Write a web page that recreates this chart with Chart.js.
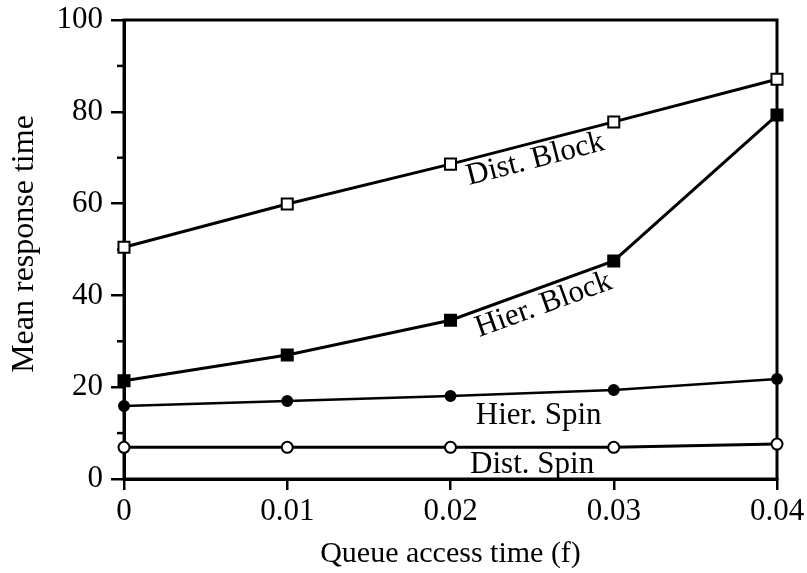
<!DOCTYPE html>
<html>
<head>
    <title>Mean response time</title>
    <script src="https://cdn.jsdelivr.net/npm/chart.js@4/dist/chart.umd.min.js"></script>
    <style>
        body { margin: 0; background: #fff; }
        #wrap { width: 807px; height: 573px; position: relative; }
    </style>
</head>
<body>
<div id="wrap"><canvas id="stage"></canvas></div>
<script>
    // queue access time f
    var xValues = [0, 0.01, 0.02, 0.03, 0.04];
    var xTickLabels = ['0', '0.01', '0.02', '0.03', '0.04'];
    var yTicks = [0, 20, 40, 60, 80, 100];
    var yMinorTicks = [10, 30, 50, 70, 90];

    // mean response time per scheme
    var distBlock = [50.5, 59.9, 68.6, 77.8, 87.1];
    var hierBlock = [21.4, 27.0, 34.6, 47.5, 79.3];
    var hierSpin  = [15.9, 17.0, 18.1, 19.4, 21.8];
    var distSpin  = [6.9, 6.9, 6.9, 6.9, 7.6];

    // curve names written next to the lines: [text, x, y, dataset index for slope]
    var curveLabels = [
        ['Dist. Block', 0.0252, 69.6, 0],
        ['Hier. Block', 0.0257, 37.9, 1],
        ['Hier. Spin', 0.0254, 13.8, -1],
        ['Dist. Spin', 0.0250, 3.1, -1]
    ];

    var serif = 'Liberation Serif';

    function toPoints(ys) {
        return xValues.map(function (x, i) { return {x: x, y: ys[i]}; });
    }

    // box round the plot, drawn under the lines so edge markers sit on top
    var frame = {
        id: 'frame',
        beforeDatasetsDraw: function (chart) {
            var a = chart.chartArea, ctx = chart.ctx, ys = chart.scales.y;
            ctx.save();
            ctx.strokeStyle = '#000';
            ctx.lineWidth = 3;
            ctx.strokeRect(a.left, a.top, a.right - a.left, a.bottom - a.top);
            // short minor ticks on the y axis
            ctx.lineWidth = 2.5;
            yMinorTicks.forEach(function (v) {
                var py = ys.getPixelForValue(v);
                ctx.beginPath();
                ctx.moveTo(a.left - 7, py);
                ctx.lineTo(a.left, py);
                ctx.stroke();
            });
            ctx.restore();
        }
    };

    var lineNames = {
        id: 'lineNames',
        afterDatasetsDraw: function (chart) {
            var ctx = chart.ctx, xs = chart.scales.x, ys = chart.scales.y;
            ctx.save();
            ctx.fillStyle = '#000';
            ctx.font = '31px "' + serif + '"';
            ctx.textAlign = 'center';
            ctx.textBaseline = 'middle';
            curveLabels.forEach(function (l) {
                var px = xs.getPixelForValue(l[1]);
                var py = ys.getPixelForValue(l[2]);
                var angle = 0;
                if (l[3] >= 0) {
                    var pts = chart.getDatasetMeta(l[3]).data;
                    angle = Math.atan2(pts[3].y - pts[2].y, pts[3].x - pts[2].x);
                }
                ctx.save();
                ctx.translate(px, py);
                ctx.rotate(angle);
                ctx.fillText(l[0], 0, 0);
                ctx.restore();
            });

            // y axis title, rotated
            ctx.font = '32px "' + serif + '"';
            ctx.textBaseline = 'alphabetic';
            ctx.translate(33, 244);
            ctx.rotate(-Math.PI / 2);
            ctx.fillText('Mean response time', 0, 0);
            ctx.restore();
        }
    };

    function series(label, ys, style, fill, radius, width) {
        return {
            label: label,
            data: toPoints(ys),
            borderColor: '#000',
            borderWidth: width,
            pointStyle: style,
            pointRadius: radius,
            pointBorderWidth: 2,
            pointBorderColor: '#000',
            pointBackgroundColor: fill,
            tension: 0,
            clip: false
        };
    }

    var canvas = document.getElementById('stage');
    var chart = new Chart(canvas, {
        type: 'line',
        data: {
            datasets: [
                series('Dist. Block', distBlock, 'rect', '#fff', 7.8, 3),
                series('Hier. Block', hierBlock, 'rect', '#000', 7.8, 3),
                series('Hier. Spin', hierSpin, 'circle', '#000', 5, 2.5),
                series('Dist. Spin', distSpin, 'circle', '#fff', 5.5, 3)
            ]
        },
        options: {
            responsive: true,
            maintainAspectRatio: false,
            animation: false,
            layout: { padding: { top: 20, right: 30, left: 0, bottom: 0 } },
            plugins: {
                legend: { display: false },
                tooltip: { enabled: false }
            },
            scales: {
                x: {
                    type: 'linear',
                    min: 0,
                    max: 0.04,
                    afterBuildTicks: function (s) {
                        s.ticks = xValues.map(function (v) { return {value: v}; });
                    },
                    afterFit: function (s) {
                        s.height = 94;
                        s.paddingLeft = 0;
                        s.paddingRight = 0;
                    },
                    grid: { drawOnChartArea: false, color: '#000', lineWidth: 2.5, tickLength: 11 },
                    border: { display: true, color: '#000', width: 3 },
                    ticks: {
                        color: '#000',
                        padding: 3,
                        maxRotation: 0,
                        font: { family: serif, size: 31 },
                        callback: function (v) {
                            var i = xValues.indexOf(v);
                            return i >= 0 ? xTickLabels[i] : '';
                        }
                    },
                    title: {
                        display: true,
                        text: 'Queue access time (f)',
                        color: '#000',
                        font: { family: serif, size: 30 },
                        padding: { top: 0, bottom: 1 }
                    }
                },
                y: {
                    min: 0,
                    max: 100,
                    afterBuildTicks: function (s) {
                        s.ticks = yTicks.map(function (v) { return {value: v}; });
                    },
                    afterFit: function (s) {
                        s.width = 124;
                        s.paddingTop = 0;
                        s.paddingBottom = 0;
                    },
                    grid: { drawOnChartArea: false, color: '#000', lineWidth: 2.5, tickLength: 13 },
                    border: { display: true, color: '#000', width: 3 },
                    ticks: {
                        color: '#000',
                        padding: 8,
                        font: { family: serif, size: 31 }
                    },
                    title: { display: false }
                }
            }
        },
        plugins: [frame, lineNames]
    });
</script>
</body>
</html>
